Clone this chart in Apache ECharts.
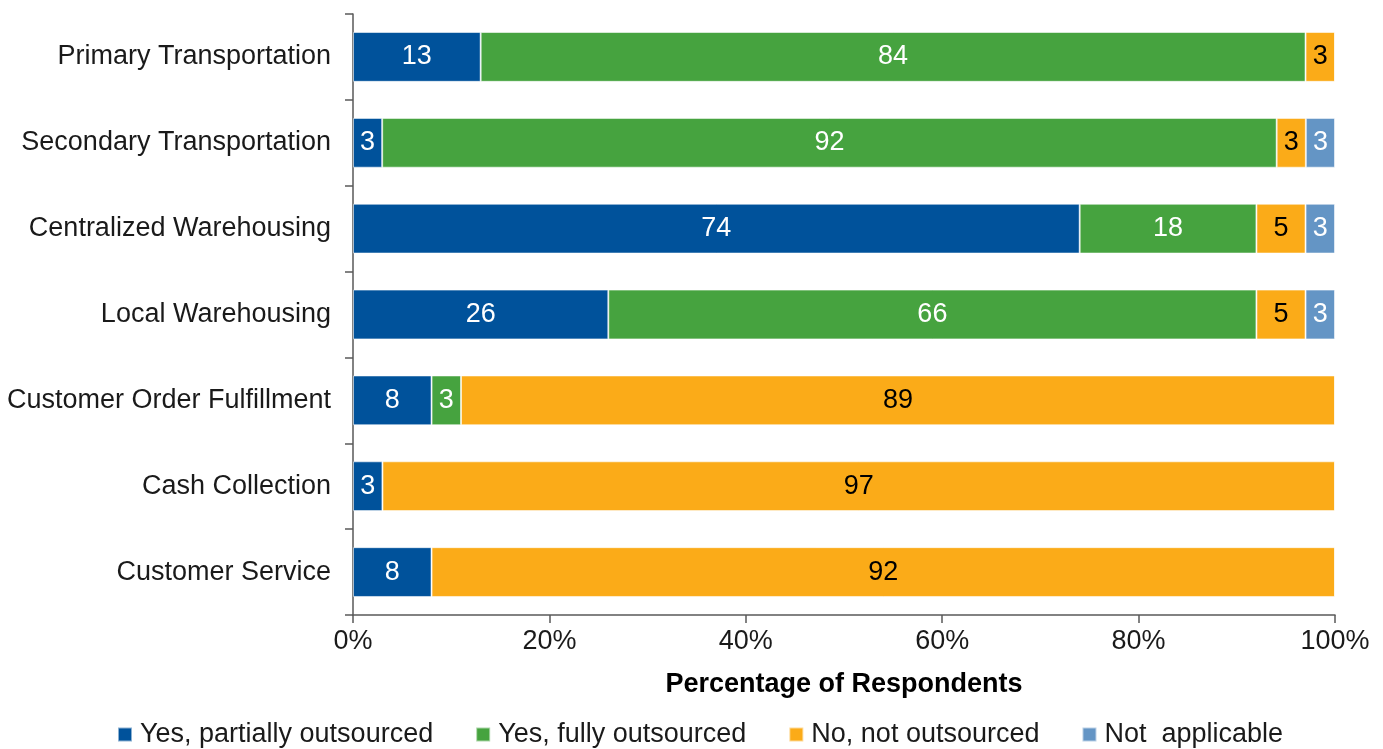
<!DOCTYPE html>
<html>
<head>
<meta charset="utf-8">
<script src="https://cdn.jsdelivr.net/npm/echarts@6/dist/echarts.min.js"></script>
<style>
html,body{margin:0;padding:0;background:#fff;}
#chart{width:1383px;height:749px;}
</style>
</head>
<body>
<div id="chart"></div>
<script>
const categories = ["Primary Transportation","Secondary Transportation","Centralized Warehousing","Local Warehousing","Customer Order Fulfillment","Cash Collection","Customer Service"];
const seriesNames = ["Yes, partially outsourced","Yes, fully outsourced","No, not outsourced","Not  applicable"];
const partially = [13, 3, 74, 26, 8, 3, 8];
const fully = [84, 92, 18, 66, 3, 0, 0];
const notOutsourced = [3, 3, 5, 5, 89, 97, 92];
const notApplicable = [0, 3, 3, 3, 0, 0, 0];
const xTicks = [0, 20, 40, 60, 80, 100];

const colors = ["#00529B", "#46A33F", "#FBAB18", "#6495C5"];
const labelColors = ["#ffffff", "#ffffff", "#000000", "#ffffff"];
const raw = [partially, fully, notOutsourced, notApplicable];
const totals = categories.map((_, i) => raw.reduce((s, arr) => s + arr[i], 0));
const FONT = '"Liberation Sans", Arial, sans-serif';
const FS = 27;

const series = raw.map((arr, k) => ({
  name: seriesNames[k],
  type: 'bar',
  stack: 'total',
  barCategoryGap: '42%',
  itemStyle: { color: colors[k], borderColor: 'rgba(255,255,255,0.55)', borderWidth: 1 },
  label: {
    show: true,
    position: 'inside',
    color: labelColors[k],
    fontSize: FS,
    fontFamily: FONT,
    formatter: p => (p.data.raw > 0 ? String(p.data.raw) : '')
  },
  emphasis: { disabled: true },
  data: arr.map((v, i) => ({ value: v / totals[i] * 100, raw: v }))
}));

const chart = echarts.init(document.getElementById('chart'));
chart.setOption({
  animation: false,
  backgroundColor: '#ffffff',
  grid: { left: 353, right: 48, top: 14, bottom: 134, containLabel: false },
  legend: {
    data: seriesNames,
    left: 117,
    top: 721,
    padding: 0,
    icon: 'rect',
    itemWidth: 14,
    itemHeight: 14,
    itemGap: 42,
    textStyle: { fontSize: FS, fontFamily: FONT, color: '#1a1a1a', padding: [0, 0, 0, 3] }
  },
  xAxis: {
    type: 'value',
    min: 0,
    max: 100,
    interval: 20,
    name: 'Percentage of Respondents',
    nameLocation: 'middle',
    nameGap: 56,
    nameTextStyle: { fontSize: FS, fontWeight: 'bold', fontFamily: FONT, color: '#000' },
    axisLine: { show: true, lineStyle: { color: '#595959', width: 1.5 } },
    axisTick: { show: true, length: 8, lineStyle: { color: '#595959', width: 1.5 } },
    axisLabel: {
      fontSize: FS, fontFamily: FONT, color: '#1a1a1a', margin: 13,
      formatter: v => (xTicks.includes(v) ? v + '%' : '')
    },
    splitLine: { show: false }
  },
  yAxis: {
    type: 'category',
    data: categories,
    inverse: true,
    axisLine: { show: true, lineStyle: { color: '#595959', width: 1.5 } },
    axisTick: { show: true, length: 8, lineStyle: { color: '#595959', width: 1.5 } },
    axisLabel: { fontSize: FS, fontFamily: FONT, color: '#1a1a1a', margin: 22 },
    splitLine: { show: false }
  },
  series: series
});
</script>
</body>
</html>
